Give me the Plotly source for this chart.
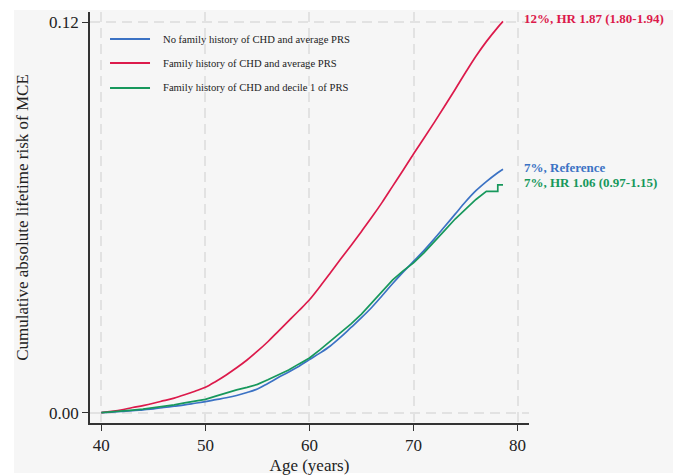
import plotly.graph_objects as go

# ---- data ----
ages = [40, 41, 42, 43, 44, 45, 46, 47, 48, 49, 50, 51, 52, 53, 54, 55, 56, 57, 58, 59,
        60, 61, 62, 63, 64, 65, 66, 67, 68, 69, 70, 71, 72, 73, 74, 75, 76, 77, 78, 78.6]

risk_no_fh_avg = [0.0000, 0.0002, 0.0004, 0.0006, 0.0009, 0.0012, 0.0016, 0.0020, 0.0024, 0.0029,
                  0.0034, 0.0040, 0.0046, 0.0053, 0.0062, 0.0073, 0.0090, 0.0108, 0.0125, 0.0143,
                  0.0163, 0.0183, 0.0205, 0.0232, 0.0262, 0.0292, 0.0324, 0.0360, 0.0397, 0.0432,
                  0.0465, 0.0498, 0.0534, 0.0572, 0.0610, 0.0648, 0.0682, 0.0710, 0.0735, 0.0748]

risk_fh_avg = [0.0000, 0.0004, 0.0009, 0.0016, 0.0022, 0.0029, 0.0037, 0.0045, 0.0055, 0.0066,
               0.0078, 0.0096, 0.0116, 0.0138, 0.0162, 0.0189, 0.0218, 0.0250, 0.0282, 0.0314,
               0.0347, 0.0387, 0.0429, 0.0472, 0.0514, 0.0557, 0.0601, 0.0647, 0.0696, 0.0745,
               0.0795, 0.0843, 0.0892, 0.0942, 0.0993, 0.1045, 0.1095, 0.1140, 0.1180, 0.1202]

ages_green = [40, 41, 42, 43, 44, 45, 46, 47, 48, 49, 50, 51, 52, 53, 54, 55, 56, 57, 58, 59,
              60, 61, 62, 63, 64, 65, 66, 67, 68, 69, 70, 71, 72, 73, 74, 75, 76, 77, 78.1, 78.1, 78.6]
risk_fh_dec1 = [0.0000, 0.0002, 0.0005, 0.0008, 0.0011, 0.0015, 0.0019, 0.0024, 0.0030, 0.0035,
                0.0041, 0.0051, 0.0061, 0.0070, 0.0078, 0.0087, 0.0101, 0.0116, 0.0131, 0.0150,
                0.0168, 0.0193, 0.0219, 0.0245, 0.0273, 0.0303, 0.0337, 0.0374, 0.0408, 0.0436,
                0.0460, 0.0491, 0.0524, 0.0560, 0.0595, 0.0625, 0.0655, 0.0680, 0.0680, 0.0700, 0.0700]

series_names = ["No family history of CHD and average PRS",
                "Family history of CHD and average PRS",
                "Family history of CHD and decile 1 of PRS"]
end_labels = ["7%, Reference", "12%, HR 1.87 (1.80-1.94)", "7%, HR 1.06 (0.97-1.15)"]

x_ticks = [40, 50, 60, 70, 80]
y_ticks = [0.0, 0.12]
y_tick_text = ["0.00", "0.12"]

BLUE = "#3b72c4"
RED = "#dc1a4b"
GREEN = "#17985c"
FONT = "Liberation Serif"
colors = [BLUE, RED, GREEN]
shapes_ = ["spline", "spline", "linear"]

fig = go.Figure()
traces = [(ages, risk_no_fh_avg), (ages, risk_fh_avg), (ages_green, risk_fh_dec1)]
for (xs, ys), name, col, shp in zip(traces, series_names, colors, shapes_):
    fig.add_trace(go.Scatter(x=xs, y=ys, mode="lines", name=name, showlegend=False,
                             line=dict(color=col, width=1.7, shape=shp)))

# end-of-line labels
for (xs, ys), txt, col, dy in zip(traces, end_labels, colors, [2, 3, 2]):
    fig.add_annotation(x=xs[-1], y=ys[-1], xref="x", yref="y", text="<b>" + txt + "</b>",
                       showarrow=False, xanchor="left", yanchor="middle", xshift=19, yshift=dy,
                       font=dict(family=FONT, size=13, color=col))

# legend (drawn in the upper-left corner of the plot area)
leg_y = [0.9343, 0.8759, 0.8151]
for name, col, yy in zip(series_names, colors, leg_y):
    fig.add_shape(type="line", xref="paper", yref="paper", x0=0.0456, x1=0.1367, y0=yy, y1=yy,
                  line=dict(color=col, width=1.8))
    fig.add_annotation(x=0.1617, y=yy, xref="paper", yref="paper", text=name, showarrow=False,
                       xanchor="left", yanchor="middle",
                       font=dict(family=FONT, size=10.6, color="#222"))

# light grey panel behind the chart
fig.add_shape(type="rect", xref="paper", yref="paper", x0=-0.1731, x1=1.328, y0=-0.1217, y1=1.0049,
              fillcolor="#f6f6f6", line=dict(width=0), layer="below")

# the page body adds an 8px margin, so the figure is 8px smaller than the window
fig.update_layout(
    width=680, height=467,
    margin=dict(l=82, r=159, t=4, b=52),
    paper_bgcolor="white",
    plot_bgcolor="rgba(0,0,0,0)",
    font=dict(family=FONT, color="#222"),
    showlegend=False,
)
fig.update_xaxes(range=[38.91, 81.1], tickvals=x_ticks, showline=True, linecolor="#333", linewidth=1.5,
                 ticks="outside", ticklen=6, tickcolor="#333", tickfont=dict(size=17, family=FONT),
                 showgrid=True, gridcolor="#e2e2e2", griddash="10px,6px", gridwidth=1.5, zeroline=False,
                 automargin=False,
                 title=dict(text="Age (years)", font=dict(size=17, family=FONT), standoff=8))
fig.update_yaxes(range=[-0.00316, 0.1231], tickvals=y_ticks, ticktext=y_tick_text, showline=True,
                 linecolor="#333", linewidth=1.5, ticks="outside", ticklen=6, tickcolor="#333",
                 tickfont=dict(size=17, family=FONT),
                 showgrid=True, gridcolor="#e2e2e2", griddash="10px,6px", gridwidth=1.5, zeroline=False,
                 automargin=False,
                 title=dict(text="Cumulative absolute lifetime risk of MCE", font=dict(size=17, family=FONT),
                            standoff=16))

fig.write_html("out.html")
